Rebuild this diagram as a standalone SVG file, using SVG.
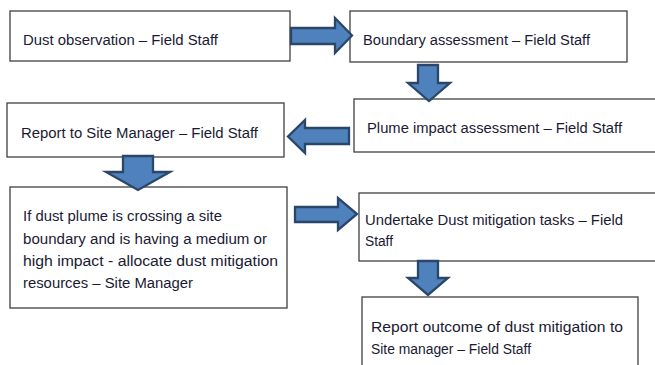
<svg xmlns="http://www.w3.org/2000/svg" width="655" height="365" viewBox="0 0 655 365">
  <style>
    .box { fill: #ffffff; stroke: #3f3f3f; stroke-width: 1.3; }
    .lbl { font-family: "Liberation Sans", Arial, sans-serif; font-size: 14px; fill: #1a1a33; }
    .arrow { fill: #4f81bd; stroke: #2a4669; stroke-width: 2.3; stroke-linejoin: miter; }
  </style>
  <rect width="655" height="365" fill="#ffffff"/>

  <g id="dust-observation">
    <rect class="box" x="10" y="11" width="280" height="50"/>
    <text class="lbl" x="23" y="45" textLength="195" lengthAdjust="spacingAndGlyphs">Dust observation – Field Staff</text>
  </g>

  <g id="boundary-assessment">
    <rect class="box" x="350" y="11" width="277" height="51"/>
    <text class="lbl" x="363" y="45" textLength="227" lengthAdjust="spacingAndGlyphs">Boundary assessment – Field Staff</text>
  </g>

  <g id="plume-impact">
    <rect class="box" x="354" y="99" width="320" height="53"/>
    <text class="lbl" x="367" y="133" textLength="255" lengthAdjust="spacingAndGlyphs">Plume impact assessment – Field Staff</text>
  </g>

  <g id="report-to-manager">
    <rect class="box" x="7" y="103" width="277" height="54"/>
    <text class="lbl" x="21" y="138" textLength="237" lengthAdjust="spacingAndGlyphs">Report to Site Manager – Field Staff</text>
  </g>

  <g id="allocate-resources">
    <rect class="box" x="10" y="187" width="277" height="121"/>
    <text class="lbl" x="23" y="221" textLength="199" lengthAdjust="spacingAndGlyphs">If dust plume is crossing a site</text>
    <text class="lbl" x="23" y="243.5" textLength="244" lengthAdjust="spacingAndGlyphs">boundary and is having a medium or</text>
    <text class="lbl" x="23" y="266" textLength="255" lengthAdjust="spacingAndGlyphs">high impact - allocate dust mitigation</text>
    <text class="lbl" x="23" y="288" textLength="170" lengthAdjust="spacingAndGlyphs">resources – Site Manager</text>
  </g>

  <g id="mitigation-tasks">
    <rect class="box" x="359" y="193" width="320" height="68"/>
    <text class="lbl" x="365" y="225" textLength="258" lengthAdjust="spacingAndGlyphs">Undertake Dust mitigation tasks – Field</text>
    <text class="lbl" x="365" y="246" textLength="28" lengthAdjust="spacingAndGlyphs">Staff</text>
  </g>

  <g id="report-outcome">
    <rect class="box" x="362" y="297" width="276" height="90"/>
    <text class="lbl" x="371" y="332" textLength="252" lengthAdjust="spacingAndGlyphs">Report outcome of dust mitigation to</text>
    <text class="lbl" x="371" y="354" textLength="160" lengthAdjust="spacingAndGlyphs">Site manager – Field Staff</text>
  </g>

  <g id="connectors">
    <polygon class="arrow" points="291,28 335,28 335,18 352,35.5 335,53 335,44 291,44"/>
    <polygon class="arrow" points="418,65 438,65 438,83 450,83 429,101 408,83 418,83"/>
    <polygon class="arrow" points="349,128 305,128 305,120 288,136.5 305,153 305,144 349,144"/>
    <polygon class="arrow" points="123,156 153,156 153,172 170,172 138,190 106,172 123,172"/>
    <polygon class="arrow" points="295,207 338,207 338,198 357,214 338,230 338,222 295,222"/>
    <polygon class="arrow" points="418,261 438,261 438,278 448,278 428,295 408,278 418,278"/>
  </g>
</svg>
